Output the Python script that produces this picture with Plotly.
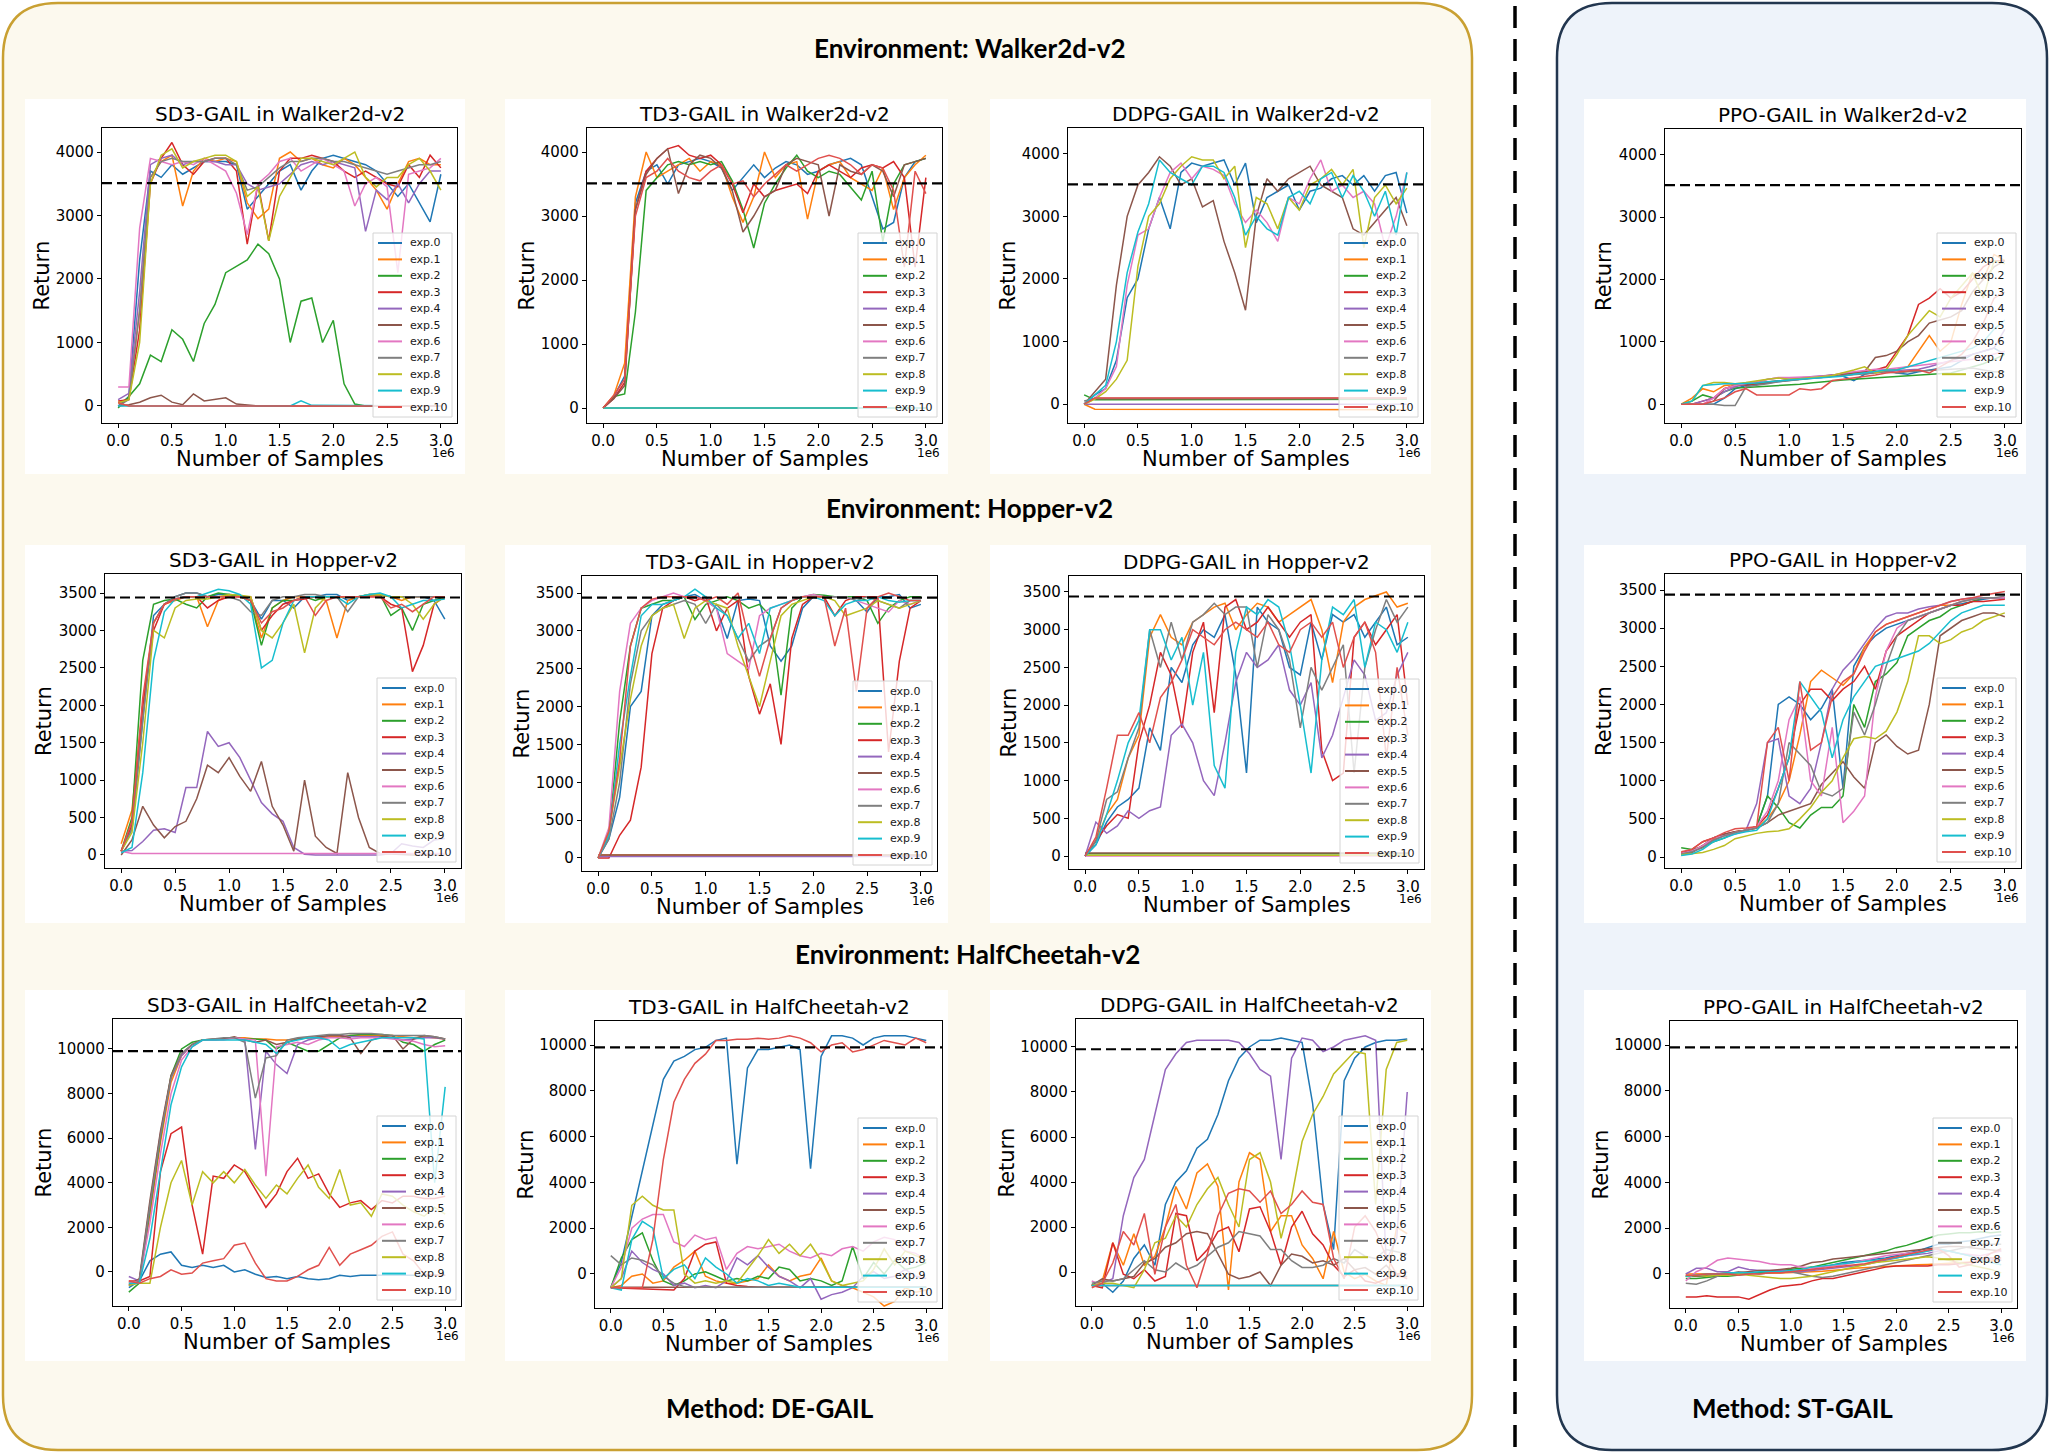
import plotly.graph_objects as go

W, H = 2051, 1453

# sample grid, in millions of samples
X = [0.0, 0.1, 0.2, 0.3, 0.4, 0.5, 0.6, 0.7, 0.8, 0.9, 1.0, 1.1, 1.2, 1.3, 1.4, 1.5,
     1.6, 1.7, 1.8, 1.9, 2.0, 2.1, 2.2, 2.3, 2.4, 2.5, 2.6, 2.7, 2.8, 2.9, 3.0]

EXP_NAMES = ['exp.0', 'exp.1', 'exp.2', 'exp.3', 'exp.4', 'exp.5',
             'exp.6', 'exp.7', 'exp.8', 'exp.9', 'exp.10']
COLORS = ['#1f77b4', '#ff7f0e', '#2ca02c', '#d62728', '#9467bd', '#8c564b',
          '#e377c2', '#7f7f7f', '#bcbd22', '#17becf', '#e0504d']

XTICKS = [0.0, 0.5, 1.0, 1.5, 2.0, 2.5, 3.0]
WALKER_TICKS = [0, 1000, 2000, 3000, 4000]
HOPPER_TICKS = [0, 500, 1000, 1500, 2000, 2500, 3000, 3500]
CHEETAH_TICKS = [0, 2000, 4000, 6000, 8000, 10000]

# expert returns (dashed lines)
WALKER_EXPERT = 3510
HOPPER_EXPERT = 3440
CHEETAH_EXPERT = 9900

# a curve is either a list on X, or (own_x, y) for flat runs
SD3_WALKER = [
    [0, 150, 2300, 3700, 3600, 3800, 3650, 3750, 3850, 3850, 3850, 3800, 3100, 3300, 3500, 3700,
     3800, 3400, 3700, 3900, 3950, 3900, 3850, 3800, 3700, 3500, 3300, 3500, 3200, 2900, 3650],
    [50, 120, 1500, 3600, 3850, 3950, 3150, 3700, 3900, 3850, 3900, 3850, 3200, 2950, 3100, 3900,
     4000, 3850, 3900, 3800, 3750, 3900, 3800, 3600, 3400, 3100, 3500, 3850, 3900, 3800, 3800],
    [-30, 150, 350, 800, 700, 1200, 1050, 700, 1300, 1600, 2100, 2200, 2300, 2550, 2400, 2000,
     1000, 1650, 1700, 1000, 1350, 350, 30, 0, 0, 0, 0, 0, 0, 0, 0],
    [80, 100, 1200, 3500, 3900, 4150, 3800, 3650, 3850, 3900, 3900, 3700, 2550, 3500, 2600, 3700,
     3900, 3900, 3950, 3900, 3850, 3700, 3600, 3700, 3600, 3500, 3450, 3800, 3600, 3950, 3750],
    [100, 200, 1800, 3800, 3900, 3950, 3800, 3850, 3850, 3850, 3800, 3800, 3500, 3400, 3450, 3500,
     3650, 3800, 3850, 3800, 3850, 3800, 3750, 2750, 3400, 3250, 3500, 3200, 3500, 3700, 3700],
    [0, 20, 60, 130, 170, 60, 20, 190, 80, 100, 130, 30, 10, 0, 0, 0,
     0, 0, 0, 0, 0, 0, 0, 0, 0, 0, 0, 0, 0, 0, 0],
    [300, 300, 2800, 3900, 3850, 3800, 3850, 3800, 3900, 3800, 3700, 3350, 2700, 3500, 3650, 3850,
     3900, 3700, 3800, 3900, 3800, 3700, 3150, 3500, 3600, 3450, 2100, 3650, 3700, 3750, 3900],
    [0, 100, 1500, 3600, 3850, 3900, 3850, 3850, 3850, 3900, 3900, 3800, 3400, 3450, 3600, 3750,
     3850, 3850, 3900, 3900, 3850, 3850, 3800, 3750, 3700, 3650, 3700, 3750, 3800, 3800, 3850],
    [50, 100, 1000, 3500, 3950, 4050, 3750, 3850, 3900, 3950, 3950, 3850, 3300, 3450, 2600, 3300,
     3600, 3900, 3900, 3850, 3800, 3900, 4000, 3600, 3450, 3600, 3600, 3800, 3900, 3700, 3400],
    ([0.0, 1.6, 1.7, 1.8, 3.0], [0, 0, 80, 10, 0]),
    ([0.0, 0.1, 3.0], [50, 0, 0]),
]

TD3_WALKER = [
    [0, 180, 500, 3200, 3700, 3800, 3500, 3800, 3850, 3900, 3850, 3750, 3400, 3600, 3800, 3600,
     3750, 3850, 3800, 3650, 3700, 3800, 3850, 3900, 3800, 3300, 2800, 2900, 3600, 3850, 3900],
    [0, 200, 700, 3300, 4000, 3600, 3700, 3800, 3900, 3700, 3850, 3800, 3300, 2900, 3300, 4000,
     3600, 3800, 3850, 2950, 3700, 3800, 3850, 3600, 3500, 3400, 3750, 3100, 3600, 3800, 3950],
    [0, 180, 220, 1500, 3400, 3600, 3800, 3850, 3800, 3850, 3800, 3850, 3550, 3100, 2500, 3200,
     3500, 3750, 3950, 3700, 3600, 3700, 3650, 3450, 3250, 3700, 2600, 3500, 3800, 3850, 3900],
    [0, 150, 400, 3100, 3700, 3900, 4050, 4100, 3950, 3900, 3950, 3800, 3500, 3050, 3500, 3300,
     3400, 3450, 3500, 3350, 3700, 3800, 3700, 3600, 3750, 3800, 3750, 3850, 3600, 2200, 3600],
    ([0.0, 3.0], [0, 0]),
    [0, 150, 350, 3100, 3650, 3900, 4050, 3350, 3800, 3950, 3900, 3750, 3400, 2750, 3000, 3300,
     3400, 3800, 3900, 3850, 3800, 3000, 3800, 3700, 3650, 3800, 3700, 3300, 3800, 3850, 3900],
    ([0.0, 3.0], [0, 0]),
    ([0.0, 3.0], [0, 0]),
    ([0.0, 3.0], [0, 0]),
    ([0.0, 3.0], [0, 0]),
    [0, 200, 450, 3000, 3600, 3700, 3900, 3700, 3600, 3550, 3700, 3800, 3500, 3550, 3300, 3500,
     3650, 3800, 3700, 3800, 3900, 3950, 3900, 3800, 3650, 3800, 3750, 3400, 2200, 3700, 3350],
]

DDPG_WALKER = [
    [0, 150, 250, 700, 1700, 2000, 2800, 3300, 2800, 3700, 3850, 3800, 3850, 3900, 3500, 3850,
     2900, 3300, 3400, 3500, 3100, 3400, 3450, 3600, 3650, 3500, 3650, 3400, 3650, 3700, 3050],
    ([0.0, 0.1, 3.0], [0, -80, -90]),
    ([0.0, 0.1, 3.0], [150, 70, 80]),
    ([0.0, 0.1, 3.0], [0, 90, 95]),
    ([0.0, 3.0], [0, 0]),
    [0, 200, 400, 1900, 3000, 3500, 3700, 3950, 3800, 3500, 3600, 3150, 3250, 2600, 2100, 1500,
     3000, 3600, 3400, 3600, 3700, 3800, 3500, 3400, 3300, 2800, 2700, 2900, 3100, 3300, 2850],
    [0, 100, 250, 600, 1900, 2700, 2800, 3300, 3700, 3850, 3600, 3800, 3750, 3650, 3200, 2900,
     3100, 2900, 2600, 3300, 3200, 3600, 3900, 3400, 3500, 3300, 3400, 3200, 2500, 3000, 3700],
    ([0.0, 0.1, 3.0], [50, 90, 90]),
    [0, 80, 200, 400, 700, 2200, 3000, 3200, 3600, 3800, 3950, 3900, 3900, 3600, 3800, 2500,
     3300, 3200, 2800, 3300, 3100, 3500, 3600, 3750, 3500, 3750, 2500, 3300, 3500, 3200, 3450],
    [0, 150, 300, 1000, 2100, 2750, 3200, 3900, 3700, 3600, 3500, 3800, 3800, 3700, 3300, 2700,
     3000, 2800, 2700, 3300, 3400, 3200, 3600, 3700, 3300, 3650, 3400, 3000, 3400, 2700, 3700],
    ([0.0, 0.1, 3.0], [0, 100, 100]),
]

PPO_WALKER = [
    [0, 0, 0, 0, 100, 250, 300, 320, 350, 370, 380, 400, 420, 430, 450, 450,
     380, 480, 520, 550, 500, 480, 520, 550, 580, 600, 700, 800, 850, 900, 800],
    [0, 100, 250, 200, 300, 320, 330, 340, 360, 380, 390, 400, 420, 440, 450, 470,
     480, 500, 520, 540, 560, 600, 850, 1100, 850, 1000, 1600, 2100, 2000, 2400, 2300],
    [0, 50, 150, 100, 200, 260, 270, 280, 280, 290, 300, 320, 340, 360, 380, 390,
     400, 410, 420, 430, 440, 450, 460, 470, 480, 500, 550, 600, 650, 720, 800],
    [0, 0, 50, 100, 250, 300, 310, 330, 360, 380, 400, 420, 440, 450, 480, 490,
     500, 520, 550, 600, 850, 1100, 1600, 1700, 1850, 1700, 1800, 2000, 2200, 2300, 2300],
    [0, 0, 50, 100, 200, 280, 320, 350, 400, 420, 420, 420, 440, 450, 460, 480,
     500, 500, 520, 520, 540, 550, 560, 600, 650, 700, 750, 800, 850, 900, 1200],
    [0, 0, 0, 50, 250, 300, 320, 340, 360, 380, 400, 420, 430, 440, 450, 480,
     500, 520, 750, 780, 850, 1000, 1100, 1300, 1350, 1400, 1500, 1800, 2000, 2200, 2300],
    [0, 0, 0, 100, 250, 300, 330, 360, 400, 430, 430, 430, 440, 450, 460, 500,
     520, 540, 560, 560, 580, 600, 620, 640, 660, 680, 700, 720, 760, 800, 850],
    [0, 0, 0, 0, -20, -20, 280, 300, 330, 360, 380, 400, 420, 430, 450, 460,
     470, 480, 500, 520, 500, 520, 530, 540, 550, 560, 570, 580, 550, 520, 520],
    [0, 50, 300, 350, 350, 330, 350, 380, 400, 420, 400, 410, 420, 440, 460, 500,
     550, 600, 500, 550, 800, 1100, 1300, 1500, 1400, 1700, 1900, 2100, 1700, 2300, 2250],
    [0, 50, 300, 320, 330, 330, 330, 340, 360, 380, 390, 400, 410, 420, 430, 450,
     480, 500, 520, 550, 550, 600, 650, 700, 750, 800, 850, 900, 1000, 1200, 1350],
    [0, 0, 0, 50, 100, 200, 250, 150, 150, 150, 150, 250, 230, 250, 380, 400,
     420, 450, 470, 500, 520, 530, 550, 500, 600, 700, 800, 1000, 1300, 1700, 1800],
]

SD3_HOPPER = [
    [50, 350, 1800, 3200, 3350, 3450, 3500, 3500, 3450, 3480, 3480, 3470, 3400, 3150, 3400, 3400,
     3300, 3450, 3450, 3480, 3480, 3400, 3450, 3470, 3480, 3450, 3450, 3450, 3450, 3400, 3150],
    [150, 600, 2000, 3100, 3350, 3400, 3450, 3450, 3050, 3400, 3480, 3450, 3400, 2900, 3300, 3400,
     3450, 3450, 3450, 3400, 2900, 3400, 3450, 3460, 3470, 3450, 3400, 3450, 3450, 3450, 3450],
    [50, 500, 2600, 3350, 3400, 3420, 3350, 3300, 3450, 3500, 3480, 3450, 3400, 2800, 3300, 3400,
     3400, 3450, 3400, 3450, 3450, 3450, 3450, 3480, 3480, 3200, 3300, 3000, 3350, 3400, 3450],
    [50, 400, 2000, 3000, 3350, 3420, 3450, 3450, 3300, 3400, 3450, 3450, 3450, 3000, 3200, 3350,
     3400, 3420, 3450, 3450, 3450, 3450, 3450, 3450, 3450, 3350, 3300, 2450, 2800, 3350, 3450],
    [50, 60, 180, 330, 350, 300, 900, 900, 1650, 1450, 1500, 1300, 1000, 700, 550, 450,
     100, 10, 0, 0, 0, 0, 0, 0, 0, 20, 150, 120, 100, 200, 220],
    [0, 200, 650, 400, 230, 380, 450, 750, 1200, 1100, 1300, 1050, 850, 1250, 650, 400,
     50, 1000, 250, 100, 20, 1100, 500, 100, 20, 10, 0, 0, 0, 0, 0],
    ([0.0, 0.1, 3.0], [50, 20, 20]),
    [50, 350, 1800, 3100, 3350, 3450, 3500, 3500, 3450, 3450, 3450, 3400, 3250, 3200, 3400, 3450,
     3450, 3480, 3480, 3450, 3450, 3250, 3450, 3480, 3480, 3450, 3450, 3450, 3450, 3450, 3450],
    [50, 300, 1500, 3000, 2900, 3300, 3400, 3420, 3420, 3450, 3480, 3470, 3450, 3000, 2900, 3100,
     3350, 2700, 3300, 3450, 3450, 3450, 3450, 3480, 3480, 3450, 3450, 3350, 3150, 3350, 3450],
    [30, 100, 1100, 2600, 3250, 3420, 3450, 3450, 3500, 3550, 3530, 3480, 3350, 2500, 2600, 3100,
     3400, 3450, 3450, 3450, 3450, 3350, 3450, 3480, 3500, 3450, 3300, 3350, 3400, 3400, 3420],
    [50, 450, 2100, 3100, 3350, 3420, 3450, 3450, 3450, 3450, 3450, 3450, 3400, 3100, 3250, 3300,
     3400, 3450, 3200, 3400, 3450, 3450, 3450, 3450, 3450, 3300, 3350, 3250, 3350, 3450, 3450],
]

TD3_HOPPER = [
    [0, 250, 800, 2000, 2200, 3200, 3350, 3400, 3450, 3480, 3400, 3300, 2900, 3400, 3420, 3400,
     2800, 2600, 2800, 3300, 3450, 3450, 3450, 3450, 3400, 3250, 3450, 3450, 3480, 3300, 3350],
    ([0.0, 3.0], [40, 40]),
    [0, 300, 1800, 2800, 3300, 3350, 3400, 3400, 3450, 3150, 3350, 3400, 3450, 3400, 3300, 3350,
     3200, 2150, 3300, 3450, 3480, 3470, 3450, 3450, 3450, 3400, 3100, 3300, 3400, 3450, 3450],
    [0, 0, 300, 500, 1200, 2700, 3300, 3400, 3450, 3400, 3450, 3000, 3300, 3400, 2400, 1900,
     2300, 1500, 2900, 3350, 3450, 3450, 3200, 3400, 3450, 3450, 3450, 1400, 2600, 3300, 3400],
    ([0.0, 3.0], [20, 20]),
    ([0.0, 3.0], [40, 40]),
    [0, 400, 2200, 3100, 3300, 3400, 3450, 3500, 3450, 3450, 3400, 3300, 2700, 2600, 2500, 3200,
     3300, 3350, 3400, 3450, 3480, 3450, 3450, 3450, 3400, 3350, 3300, 3250, 3400, 3350, 3400],
    [0, 250, 1000, 2300, 3000, 3200, 3300, 3350, 3400, 3350, 3100, 3350, 3200, 2900, 2600, 2800,
     2900, 3300, 3400, 3450, 3450, 3450, 3450, 3450, 3400, 3450, 3400, 3350, 3300, 3400, 3400],
    [0, 350, 1200, 2100, 2800, 3200, 3300, 3350, 2900, 3300, 3400, 3350, 3300, 2800, 2400, 2000,
     2600, 3200, 3350, 3400, 3450, 3450, 3400, 3200, 3250, 3300, 3400, 3350, 3300, 3350, 3400],
    [0, 300, 1500, 2400, 3200, 3350, 3350, 3400, 3450, 3550, 3450, 3300, 3200, 2900, 3100, 2700,
     3300, 3350, 3400, 3450, 3450, 3400, 3200, 3350, 3400, 3400, 3450, 3400, 3380, 3400, 3400],
    [0, 350, 1300, 2800, 3300, 3420, 3450, 3450, 3450, 3450, 3400, 3450, 3350, 3500, 2900, 2400,
     2900, 3300, 3400, 3450, 3450, 3450, 2800, 3300, 2200, 3300, 3450, 3500, 3450, 3400, 3400],
]

DDPG_HOPPER = [
    [0, 150, 450, 650, 750, 900, 1700, 1400, 2500, 2300, 2800, 3000, 2900, 3200, 2400, 1100,
     3300, 3100, 3000, 2500, 2400, 3100, 2600, 3200, 3100, 3200, 2900, 3100, 3300, 2800, 2900],
    [0, 200, 550, 750, 1300, 1600, 2900, 3200, 2900, 2800, 3100, 3200, 3300, 3350, 3000, 3200,
     3350, 3300, 3100, 3200, 3300, 3400, 3000, 2300, 3100, 3300, 3400, 3450, 3500, 3300, 3350],
    ([0.0, 3.0], [30, 30]),
    [0, 200, 400, 550, 500, 1500, 2000, 2700, 2400, 1700, 2700, 3100, 1900, 3300, 3400, 3000,
     3100, 3300, 3100, 2900, 3100, 3200, 1400, 1000, 1100, 2900, 3100, 2800, 3000, 3200, 2000],
    [0, 450, 300, 400, 600, 500, 600, 650, 1600, 1750, 1500, 1000, 800, 1500, 2300, 2700,
     2500, 2600, 2800, 2200, 2000, 2300, 1300, 1600, 2100, 2600, 2400, 1800, 1900, 2400, 2700],
    ([0.0, 3.0], [40, 40]),
    ([0.0, 3.0], [0, 0]),
    [0, 200, 750, 850, 1300, 1700, 3000, 2500, 3100, 2600, 3100, 3200, 3350, 3200, 3300, 3300,
     2500, 3200, 3000, 2600, 1700, 2500, 2200, 2500, 2800, 1100, 2500, 3000, 3400, 3100, 3300],
    ([0.0, 3.0], [10, 10]),
    [0, 150, 550, 1000, 1500, 1800, 3000, 3000, 2600, 2900, 2000, 2700, 1200, 900, 2700, 3300,
     3200, 3400, 3300, 2800, 2000, 1100, 2600, 3300, 3200, 3400, 2500, 3100, 3000, 2700, 3100],
    [0, 250, 900, 1600, 1600, 1900, 1500, 2100, 2300, 2600, 3000, 2900, 2800, 3000, 3100, 3000,
     2900, 3100, 2800, 2700, 3000, 3100, 2900, 3100, 2500, 2900, 3100, 2700, 1300, 2500, 1600],
]

PPO_HOPPER = [
    [50, 80, 150, 250, 300, 320, 350, 400, 800, 2000, 2100, 2000, 1800, 1950, 2200, 900,
     2500, 2750, 2900, 3000, 3050, 3100, 3150, 3200, 3250, 3300, 3320, 3350, 3380, 3400, 3400],
    [50, 80, 150, 230, 280, 330, 350, 380, 500, 700, 1000, 1600, 2300, 2450, 2350, 2250,
     2400, 2750, 2950, 3050, 3100, 3150, 3200, 3250, 3300, 3300, 3350, 3380, 3400, 3400, 3400],
    [120, 100, 130, 200, 250, 320, 350, 400, 800, 650, 450, 380, 550, 650, 650, 800,
     2000, 1700, 2300, 2400, 2550, 2900, 3000, 3100, 3150, 3250, 3300, 3350, 3400, 3400, 3400],
    [50, 100, 200, 250, 300, 330, 350, 400, 550, 900, 1300, 2000, 2200, 2200, 2050, 2200,
     2300, 2500, 2200, 2700, 2900, 3000, 3100, 3200, 3250, 3300, 3300, 3350, 3350, 3370, 3380],
    [30, 60, 150, 220, 280, 300, 350, 700, 1500, 1550, 800, 700, 900, 1500, 2200, 2450,
     2600, 2800, 3000, 3150, 3200, 3200, 3250, 3280, 3300, 3350, 3380, 3400, 3400, 3400, 3400],
    [30, 60, 150, 250, 300, 330, 350, 380, 450, 550, 600, 650, 700, 950, 1100, 1250,
     1050, 900, 1500, 1600, 1450, 1350, 1400, 2000, 2900, 3000, 3100, 3150, 3200, 3200, 3150],
    [50, 80, 150, 250, 280, 320, 350, 400, 600, 1000, 1800, 2100, 1000, 800, 1700, 450,
     600, 800, 2100, 2700, 3000, 3100, 3150, 3200, 3250, 3300, 3350, 3380, 3400, 3400, 3400],
    [40, 70, 120, 220, 280, 320, 350, 380, 450, 700, 1500, 1350, 1200, 850, 800, 900,
     1900, 1600, 2000, 2500, 2900, 3100, 3150, 3200, 3250, 3300, 3350, 3380, 3400, 3400, 3420],
    [30, 40, 60, 100, 150, 240, 280, 310, 330, 340, 370, 500, 650, 850, 1000, 1300,
     1550, 1580, 1550, 1650, 1900, 2300, 2900, 2900, 2800, 2850, 2950, 3000, 3100, 3150, 3200],
    [20, 40, 100, 200, 250, 300, 330, 350, 500, 900, 1300, 2300, 2100, 1900, 1300, 1800,
     2100, 2300, 2500, 2550, 2600, 2650, 2700, 2800, 2950, 3100, 3200, 3250, 3300, 3300, 3300],
    [70, 100, 200, 250, 320, 370, 380, 400, 1500, 1700, 1000, 2300, 1400, 1500, 2100, 2300,
     2400, 2700, 2950, 3050, 3100, 3150, 3200, 3250, 3300, 3350, 3380, 3400, 3430, 3450, 3480],
]

SD3_CHEETAH = [
    [-700, -400, 500, 800, 900, 300, 200, 300, 200, 300, 0, 100, -100, -250, -200, -300,
     -200, -300, -350, -300, -150, -200, -150, -150, -150, -150, -150, -150, -150, -150, -150],
    [-500, -400, 2500, 5800, 8500, 9700, 10200, 10400, 10400, 10450, 10500, 10500, 10450, 10450,
     10400, 10400, 10450, 10500, 10500, 10550, 10550, 10600, 10600, 10600, 10600, 10600, 10550,
     10500, 10550, 10500, 10450],
    [-900, -500, 2800, 6000, 8800, 10000, 10300, 10400, 10400, 10450, 10500, 10450, 10450, 10400,
     10000, 10300, 10100, 9900, 9900, 10200, 10500, 10600, 10650, 10650, 10650, 10600, 10300,
     10200, 9900, 10200, 10400],
    [-400, -400, -200, 4500, 6200, 6500, 3000, 800, 4300, 4200, 4800, 4500, 3700, 2900, 3500, 4500,
     5100, 4200, 4400, 3500, 2900, 3100, 3200, 2800, 3200, 3100, 3400, 3400, 3300, 3300, 3400],
    [-200, -400, 3000, 6200, 8700, 9700, 10200, 10400, 10400, 10450, 10500, 10400, 5500, 9900,
     9300, 8900, 10200, 10400, 10500, 10600, 10600, 10550, 10550, 10550, 10550, 10500, 10400,
     10450, 10500, 10500, 10450],
    [-600, -300, 3200, 6300, 8800, 9800, 10200, 10400, 10450, 10450, 10550, 10400, 10300, 10400,
     10200, 10300, 10450, 10500, 10550, 10600, 10600, 10500, 9800, 10400, 10550, 10600, 10000,
     10450, 10600, 10550, 10450],
    [-500, -400, 2200, 5300, 8000, 9500, 10100, 10400, 10400, 10400, 10500, 10450, 10400, 4300,
     10100, 10200, 10300, 10200, 10400, 10500, 10500, 10450, 10500, 10500, 10500, 10450, 10400,
     10350, 10200, 10100, 10150],
    [-600, -400, 3000, 6100, 8700, 9800, 10200, 10400, 10450, 10500, 10500, 10300, 7800, 9600,
     9700, 10400, 10500, 10550, 10600, 10650, 10650, 10700, 10700, 10700, 10650, 10600, 10600,
     10600, 10600, 10550, 10450],
    [-600, -500, -500, 2000, 4000, 5000, 3000, 4500, 4000, 4500, 4000, 4600, 3900, 3300, 3900, 3500,
     4200, 4800, 3800, 3300, 4600, 3000, 3100, 2500, 3500, 3400, 3000, 2700, 2500, 2900, 2600],
    [-500, -500, 1500, 4500, 7500, 9200, 10100, 10400, 10400, 10400, 10400, 10400, 10300, 10200,
     9800, 10300, 10400, 10500, 10500, 10400, 10000, 10200, 10300, 10400, 10500, 10500, 10500,
     10500, 10450, 4000, 8300],
    [-400, -500, -300, -200, 100, -100, -50, 400, 500, 600, 1200, 1300, 400, -300, -400, -400,
     -200, 100, 300, 1100, 300, 800, 1000, 1200, 1600, 1800, 800, 500, -100, -150, -150],
]

TD3_CHEETAH = [
    [-600, 500, 2500, 4500, 6500, 8500, 9300, 9500, 9800, 9900, 10200, 10300, 4800, 9000, 9800,
     9800, 9900, 10000, 9800, 4600, 9500, 10400, 10400, 10300, 10000, 10300, 10400, 10400, 10400,
     10300, 10200],
    [-600, -500, -100, 0, -400, -300, 300, 600, 1000, -100, -300, -400, -400, -300, -200, 400,
     -100, -300, -100, 0, 700, -300, -500, -600, -800, -1000, -1400, -1200, -600, -800, -700],
    [-600, 700, 1500, 1800, 600, -300, -500, -300, 0, 100, -100, -300, -200, -300, -100, -200,
     300, 200, -300, -200, -300, -500, -300, 1200, -200, 500, 0, 600, 200, 300, 500],
    ([0.0, 0.6, 0.7, 0.8, 0.9, 1.0, 1.1, 1.2, 1.3, 1.4, 3.0],
     [-600, -700, -200, 1000, 1300, 1400, -400, -500, -550, -580, -580]),
    [-600, -200, 1000, 500, 200, 0, -500, -400, -600, -500, -600, -300, 700, 400, 800, 300,
     -100, -300, -600, -200, -1100, -900, -800, -600, -100, 100, -200, -100, 200, -100, -200],
    ([0.0, 3.0], [-580, -580]),
    [-600, 300, 2000, 2400, 2600, 2600, 1400, 1200, 1700, 1500, 1600, 200, 900, 1200, 1100, 1200,
     1300, 1000, 800, 700, 900, 800, 1100, 1200, 1000, 1400, 1600, 1500, 1000, 900, 600],
    ([0.0, 0.1, 0.2, 0.3, 0.4, 0.5, 0.6, 0.7, 0.8, 3.0],
     [800, 400, 700, 600, 400, -100, -400, -550, -580, -580]),
    [-600, -200, 3000, 3400, 3000, 2800, 2800, 0, -400, -300, -400, -300, -400, 200, 800, 1500,
     900, 1300, 800, 1300, 600, -300, -500, -400, -300, 200, 1100, 400, 1000, 800, 600],
    ([0.0, 0.1, 0.2, 0.3, 0.4, 0.5, 0.6, 0.7, 0.8, 0.9, 1.0, 1.1, 1.2, 1.3, 1.4, 1.5, 1.6, 1.7,
      1.8, 3.0],
     [-600, -700, 1500, 2300, 2000, -200, 200, 400, -200, 700, 300, 0, -400, -200, -300, -500,
      -400, -500, -580, -580]),
    [-600, -600, -600, -600, 1500, 5000, 7500, 8500, 9200, 9600, 10200, 10200, 10250, 10250,
     10300, 10250, 10300, 10400, 10300, 10100, 9700, 10000, 10100, 9700, 9800, 10000, 10200,
     10100, 10000, 10300, 10100],
]

DDPG_CHEETAH = [
    [-600, -500, -900, -400, 600, 1200, 300, 3000, 4000, 4500, 5500, 5900, 7000, 8500, 9500,
     10000, 10300, 10300, 10400, 10300, 10200, 7500, 3000, 1000, 8500, 9500, 10000, 10200, 10300,
     10300, 10350],
    [-600, -400, 1300, 300, 1700, 300, 700, 2000, 3800, 2800, 4400, 4800, 3800, -800, 4000, 5300,
     5000, 1800, 2500, 2500, 1200, 600, -300, 1800, 0, -300, -100, -400, -600, 2000, 1700],
    ([0.0, 3.0], [-600, -600]),
    [-600, -700, 1300, -100, -300, 100, -400, -200, 2600, 2500, 500, 1000, 1800, 2000, 900, 2800,
     2900, 1800, 300, 2000, 2700, 1700, 1200, 300, -200, 100, -400, -500, -300, -100, 0],
    [-600, -500, -300, 2500, 4200, 5000, 7000, 9000, 9700, 10200, 10300, 10300, 10300, 10300,
     10200, 9700, 9000, 8700, 5000, 9500, 10400, 10300, 9800, 10000, 10300, 10400, 10500, 10300,
     500, 1500, 8000],
    [-600, -300, -400, -300, -200, 400, 600, 1100, 1300, 1700, 1800, 1700, 800, -100, -300, -200,
     0, -600, 300, 800, 700, 400, 500, 300, 600, 100, 200, -100, 300, -200, -200],
    ([0.0, 0.1, 3.0], [-400, -600, -600]),
    [-500, -400, -400, -300, 100, 500, 100, 0, 400, 100, 300, 700, 1100, 1300, 1800, 1700,
     1600, 1000, 1000, 500, 200, 200, 300, 600, 400, 1000, 700, 600, 1000, 900, 800],
    [-600, -500, -500, -600, -700, 100, 1300, 1500, 2500, 2000, 3000, 3700, 4200, 3000, 2000, 5000,
     5300, 4000, 1500, 3300, 5800, 7000, 7800, 8800, 9300, 9800, 9700, 3000, 9000, 10200, 10300],
    ([0.0, 3.0], [-600, -600]),
    [-700, -500, 400, 1800, 1200, 2600, -100, 2000, 3000, 300, -700, 800, 2500, 3500, 3700, 3600,
     3100, 3600, 2600, 3000, 3600, 3100, 3000, 600, -300, 2000, 2500, 1800, 700, -100, -300],
]

PPO_CHEETAH = [
    [-100, -100, -100, -50, 0, 0, 50, 50, 50, 50, 100, 150, 200, 300, 400, 500,
     550, 600, 650, 700, 800, 900, 1000, 1150, 1300, 1300, 1400, 1450, 1550, 1650, 1700],
    [0, 0, 0, 0, 0, 0, 0, 20, 30, 40, 50, 70, 100, 120, 150, 200,
     250, 280, 300, 320, 350, 370, 400, 420, 450, 480, 500, 520, 550, 580, 600],
    [-200, -200, -150, -100, -100, -50, 0, 50, 100, 150, 200, 250, 300, 400, 500, 600,
     700, 800, 900, 1000, 1150, 1250, 1400, 1550, 1700, 1750, 1800, 1800, 1850, 1800, 1850],
    [-1000, -1000, -950, -1000, -1000, -1000, -1100, -900, -700, -550, -500, -450, -300, -200,
     -200, -100, 0, 100, 200, 300, 350, 350, 350, 350, 400, 400, 450, 500, 600, 700, 700],
    [0, 250, 250, 100, 100, 300, 200, 150, 150, 150, 100, 100, 150, 200, 250, 300,
     350, 400, 500, 600, 700, 800, 850, 900, 1000, 1000, 900, 800, 700, 650, 600],
    [-100, -100, -50, 0, 50, 50, 100, 150, 150, 200, 250, 350, 500, 550, 650, 700,
     750, 800, 850, 900, 950, 1000, 1050, 1100, 1150, 1200, 1200, 1150, 1100, 1050, 1000],
    [-300, 100, 300, 600, 700, 650, 600, 550, 450, 400, 400, 300, 250, 300, 350, 400,
     500, 600, 700, 800, 850, 900, 950, 1000, 1100, 1000, 900, 850, 800, 900, 1000],
    [-400, -450, -300, -100, 0, 100, 50, 0, 50, 100, 100, 0, -100, -150, -100, 0,
     100, 200, 300, 400, 500, 600, 700, 800, 900, 1000, 1100, 1200, 1300, 1300, 1300],
    [-100, -50, -100, -50, -50, 0, -50, -100, -150, -200, -200, -150, -100, 0, 100, 200,
     300, 400, 500, 550, 600, 650, 700, 750, 700, 600, 500, 400, 300, 200, 50],
    [-100, -50, 0, 0, 50, 50, 50, 100, 100, 100, 150, 200, 300, 350, 400, 450,
     500, 550, 600, 650, 700, 800, 900, 1000, 1100, 1000, 900, 800, 600, 500, 400],
    [-50, -50, 0, 0, 0, -50, 0, 0, 50, 50, 100, 150, 200, 250, 300, 350,
     400, 450, 550, 650, 750, 850, 950, 1050, 1100, 800, 300, 400, 600, 900, 1100],
]

# title, curves, expert return, y ticks, y range
PANELS = [
    ('SD3-GAIL in Walker2d-v2', SD3_WALKER, WALKER_EXPERT, WALKER_TICKS, (-268, 4378)),
    ('TD3-GAIL in Walker2d-v2', TD3_WALKER, WALKER_EXPERT, WALKER_TICKS, (-234, 4375)),
    ('DDPG-GAIL in Walker2d-v2', DDPG_WALKER, WALKER_EXPERT, WALKER_TICKS, (-300, 4410)),
    ('PPO-GAIL in Walker2d-v2', PPO_WALKER, WALKER_EXPERT, WALKER_TICKS, (-300, 4410)),
    ('SD3-GAIL in Hopper-v2', SD3_HOPPER, HOPPER_EXPERT, HOPPER_TICKS, (-174, 3754)),
    ('TD3-GAIL in Hopper-v2', TD3_HOPPER, HOPPER_EXPERT, HOPPER_TICKS, (-172, 3725)),
    ('DDPG-GAIL in Hopper-v2', DDPG_HOPPER, HOPPER_EXPERT, HOPPER_TICKS, (-172, 3712)),
    ('PPO-GAIL in Hopper-v2', PPO_HOPPER, HOPPER_EXPERT, HOPPER_TICKS, (-144, 3710)),
    ('SD3-GAIL in HalfCheetah-v2', SD3_CHEETAH, CHEETAH_EXPERT, CHEETAH_TICKS, (-1525, 11345)),
    ('TD3-GAIL in HalfCheetah-v2', TD3_CHEETAH, CHEETAH_EXPERT, CHEETAH_TICKS, (-1485, 11048)),
    ('DDPG-GAIL in HalfCheetah-v2', DDPG_CHEETAH, CHEETAH_EXPERT, CHEETAH_TICKS, (-1511, 11244)),
    ('PPO-GAIL in HalfCheetah-v2', PPO_CHEETAH, CHEETAH_EXPERT, CHEETAH_TICKS, (-1485, 11048)),
]

# axes boxes in pixels: left, right, top, bottom
BOXES = [
    (102, 457, 128, 423), (587, 942, 128, 423), (1068, 1423, 128, 423), (1665, 2021, 129, 423),
    (105, 461, 574, 868), (582, 937, 576, 871), (1069, 1424, 576, 869), (1665, 2021, 574, 868),
    (113, 461, 1019, 1306), (595, 942, 1021, 1308), (1076, 1423, 1019, 1306), (1670, 2017, 1021, 1308),
]
WHITE_COLS = [(25, 465), (505, 948), (990, 1431), (1584, 2026)]
WHITE_ROWS = [(99, 474), (545, 923), (990, 1361)]

# legend box geometry in pixels
LEG_W, LEG_H, LEG_STEP = 79, 184, 16.4


def px(x):
    return x / W


def py(y):
    return 1 - y / H


def rounded_path(x0, y0, x1, y1, r):
    def p(x, y):
        return f'{px(x):.5f},{py(y):.5f}'
    return (f'M {p(x0 + r, y0)} L {p(x1 - r, y0)} Q {p(x1, y0)} {p(x1, y0 + r)} '
            f'L {p(x1, y1 - r)} Q {p(x1, y1)} {p(x1 - r, y1)} L {p(x0 + r, y1)} '
            f'Q {p(x0, y1)} {p(x0, y1 - r)} L {p(x0, y0 + r)} Q {p(x0, y0)} {p(x0 + r, y0)} Z')


fig = go.Figure()
shapes = []
annotations = []

# background panels
shapes.append(dict(type='path', xref='paper', yref='paper', layer='below',
                   path=rounded_path(3, 3, 1472, 1450, 55),
                   fillcolor='#FCF9EE', line=dict(color='#C9A032', width=2.5)))
shapes.append(dict(type='path', xref='paper', yref='paper', layer='below',
                   path=rounded_path(1557, 3, 2047, 1450, 55),
                   fillcolor='#EEF3FA', line=dict(color='#22364F', width=2.5)))
shapes.append(dict(type='line', xref='paper', yref='paper', layer='below',
                   x0=px(1515), x1=px(1515), y0=py(6), y1=py(1450),
                   line=dict(color='black', width=3.5, dash='22px,11px')))
for (y0, y1) in WHITE_ROWS:
    for (x0, x1) in WHITE_COLS:
        shapes.append(dict(type='rect', xref='paper', yref='paper', layer='below',
                           x0=px(x0), x1=px(x1), y0=py(y1), y1=py(y0),
                           fillcolor='white', line=dict(width=0)))

heading_font = dict(family='Lato', size=26, color='black', weight='bold')
for text, x, y in [('Environment: Walker2d-v2', 969, 48),
                   ('Environment: Hopper-v2', 969, 508),
                   ('Environment: HalfCheetah-v2', 967, 954),
                   ('Method: DE-GAIL', 770, 1408),
                   ('Method: ST-GAIL', 1792, 1408)]:
    annotations.append(dict(text=text, x=px(x), y=py(y), xref='paper', yref='paper',
                            showarrow=False, xanchor='center', yanchor='middle', font=heading_font))

text_font = dict(family='DejaVu Sans', color='black')

for k, (title, curves, expert, yticks, yrange) in enumerate(PANELS):
    n = '' if k == 0 else str(k + 1)
    left, right, top, bottom = BOXES[k]

    fig.update_layout({
        f'xaxis{n}': dict(domain=[px(left), px(right)], anchor=f'y{n}', range=[-0.15, 3.15],
                          tickvals=XTICKS, tickformat='.1f', ticks='outside', ticklen=4,
                          tickcolor='black', showline=True, mirror=True, linecolor='black',
                          linewidth=1.2, showgrid=False, zeroline=False,
                          tickfont=dict(size=15, **text_font)),
        f'yaxis{n}': dict(domain=[py(bottom), py(top)], anchor=f'x{n}', range=list(yrange),
                          tickvals=yticks, tickformat='d', ticks='outside', ticklen=4,
                          tickcolor='black', showline=True, mirror=True, linecolor='black',
                          linewidth=1.2, showgrid=False, zeroline=False,
                          tickfont=dict(size=15, **text_font)),
    })

    for i, curve in enumerate(curves):
        if isinstance(curve, tuple):
            xs, ys = curve
        else:
            xs, ys = X, curve
        fig.add_trace(go.Scatter(x=xs, y=ys, mode='lines', name=EXP_NAMES[i],
                                 line=dict(color=COLORS[i], width=1.5),
                                 xaxis=f'x{n}', yaxis=f'y{n}', showlegend=False,
                                 hoverinfo='skip'))

    # expert return
    shapes.append(dict(type='line', xref=f'x{n} domain', yref=f'y{n}', x0=0, x1=1,
                       y0=expert, y1=expert, layer='above',
                       line=dict(color='black', width=2.2, dash='10px,5px')))

    # legend box, lower right inside the axes
    lx1 = right - 5
    lx0 = lx1 - LEG_W
    ly1 = bottom - 6
    ly0 = ly1 - LEG_H
    shapes.append(dict(type='rect', xref='paper', yref='paper', layer='above',
                       x0=px(lx0), x1=px(lx1), y0=py(ly1), y1=py(ly0),
                       fillcolor='rgba(255,255,255,0.8)', line=dict(color='#d4d4d4', width=1)))
    for i, name in enumerate(EXP_NAMES):
        yy = ly0 + 10 + i * LEG_STEP
        shapes.append(dict(type='line', xref='paper', yref='paper', layer='above',
                           x0=px(lx0 + 5), x1=px(lx0 + 29), y0=py(yy), y1=py(yy),
                           line=dict(color=COLORS[i], width=2)))
        annotations.append(dict(text=name, x=px(lx0 + 35), y=py(yy), xref='paper', yref='paper',
                                showarrow=False, xanchor='left', yanchor='middle',
                                font=dict(size=11, family='DejaVu Sans', color='#1a1a1a')))

    cx = (left + right) / 2
    annotations.append(dict(text=title, x=px(cx), y=py(top - 14), xref='paper', yref='paper',
                            showarrow=False, xanchor='center', yanchor='middle',
                            font=dict(size=20, **text_font)))
    annotations.append(dict(text='Number of Samples', x=px(cx), y=py(bottom + 36),
                            xref='paper', yref='paper', showarrow=False,
                            xanchor='center', yanchor='middle', font=dict(size=21, **text_font)))
    offset = 70 if max(yticks) >= 10000 else 61
    annotations.append(dict(text='Return', x=px(left - offset), y=py((top + bottom) / 2),
                            xref='paper', yref='paper', showarrow=False, textangle=-90,
                            xanchor='center', yanchor='middle', font=dict(size=21, **text_font)))
    annotations.append(dict(text='1e6', x=px(right), y=py(bottom + 30), xref='paper',
                            yref='paper', showarrow=False, xanchor='right', yanchor='middle',
                            font=dict(size=12, **text_font)))

fig.update_layout(
    width=W, height=H,
    margin=dict(l=0, r=0, t=0, b=0),
    paper_bgcolor='white', plot_bgcolor='white',
    font=dict(family='DejaVu Sans', color='black'),
    shapes=shapes, annotations=annotations,
    showlegend=False,
)

fig.write_html('out.html', config={'displayModeBar': False},
               post_script="document.body.style.margin='0';document.body.style.overflow='hidden';")
